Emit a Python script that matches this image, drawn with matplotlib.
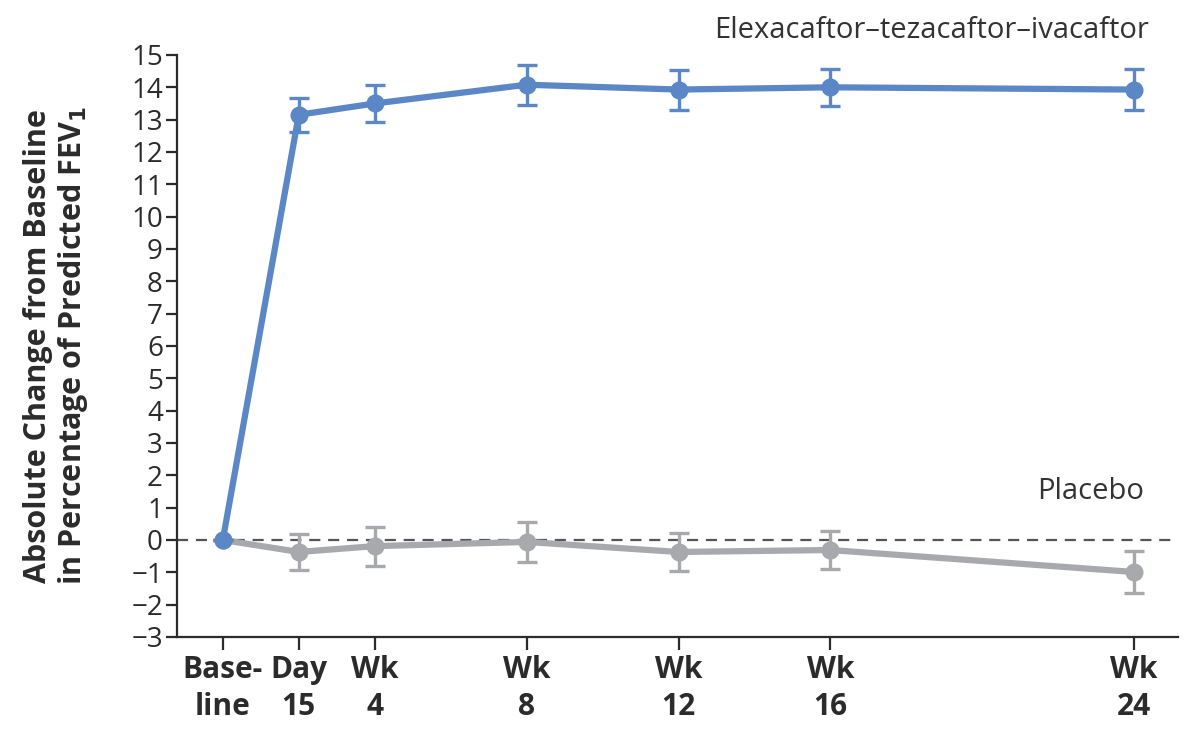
import matplotlib
matplotlib.use("Agg")
import matplotlib.pyplot as plt

plt.rcParams['font.family'] = ['Open Sans', 'DejaVu Sans']

# Data
tick_labels = ["Base-\nline", "Day\n15", "Wk\n4", "Wk\n8", "Wk\n12", "Wk\n16", "Wk\n24"]
weeks = [0, 2, 4, 8, 12, 16, 24]
etti_mean = [0.0, 13.15, 13.5, 14.08, 13.93, 14.0, 13.93]
etti_err = [0.0, 0.53, 0.56, 0.62, 0.62, 0.58, 0.63]
placebo_mean = [0.0, -0.37, -0.19, -0.06, -0.37, -0.31, -0.99]
placebo_err = [0.0, 0.55, 0.6, 0.62, 0.6, 0.6, 0.65]
yticks = list(range(-3, 16))

blue = '#5b87c6'
gray = '#a7a9ac'
dark = '#2b2b2b'

fig = plt.figure(figsize=(11.95, 7.30), dpi=100)
ax = fig.add_axes([0.148, 0.1274, 0.838, 0.7973])

ax.axhline(0, color='#555555', lw=1.6, ls=(0, (5, 3.5)), zorder=1)

ax.errorbar(weeks, placebo_mean, yerr=placebo_err, color=gray, lw=4.5, marker='o',
            markersize=12, capsize=7.5, elinewidth=2.4, capthick=2.4, zorder=2)
ax.errorbar(weeks, etti_mean, yerr=etti_err, color=blue, lw=4.5, marker='o',
            markersize=12, capsize=7.5, elinewidth=2.4, capthick=2.4, zorder=3)

ax.set_xlim(-1.21, 25.16)
ax.set_ylim(-3, 15)
ax.set_yticks(yticks)
ax.set_yticklabels([str(v).replace('-', '\u2212') for v in yticks])
ax.set_xticks(weeks)
ax.set_xticklabels(tick_labels, fontweight='bold', linespacing=1.3)

for s in ['top', 'right']:
    ax.spines[s].set_visible(False)
for s in ['left', 'bottom']:
    ax.spines[s].set_color(dark)
    ax.spines[s].set_linewidth(1.6)

ax.tick_params(axis='y', direction='out', length=8, width=1.6, color=dark,
               labelsize=20, labelcolor=dark, pad=2)
ax.tick_params(axis='x', direction='out', length=9, width=1.6, color=dark,
               labelsize=21.5, labelcolor=dark, pad=4)

ax.set_ylabel("Absolute Change from Baseline\nin Percentage of Predicted FEV$_\\mathbf{1}$",
              fontsize=22, fontweight='bold', color=dark, linespacing=1.1, labelpad=30)

ax.text(24.4, 15.75, "Elexacaftor\u2013tezacaftor\u2013ivacaftor", ha='right', va='center',
        fontsize=21, color='#333333', clip_on=False)
ax.text(24.25, 1.5, "Placebo", ha='right', va='center', fontsize=21, color='#333333')

fig.savefig("out.png", dpi=100)
